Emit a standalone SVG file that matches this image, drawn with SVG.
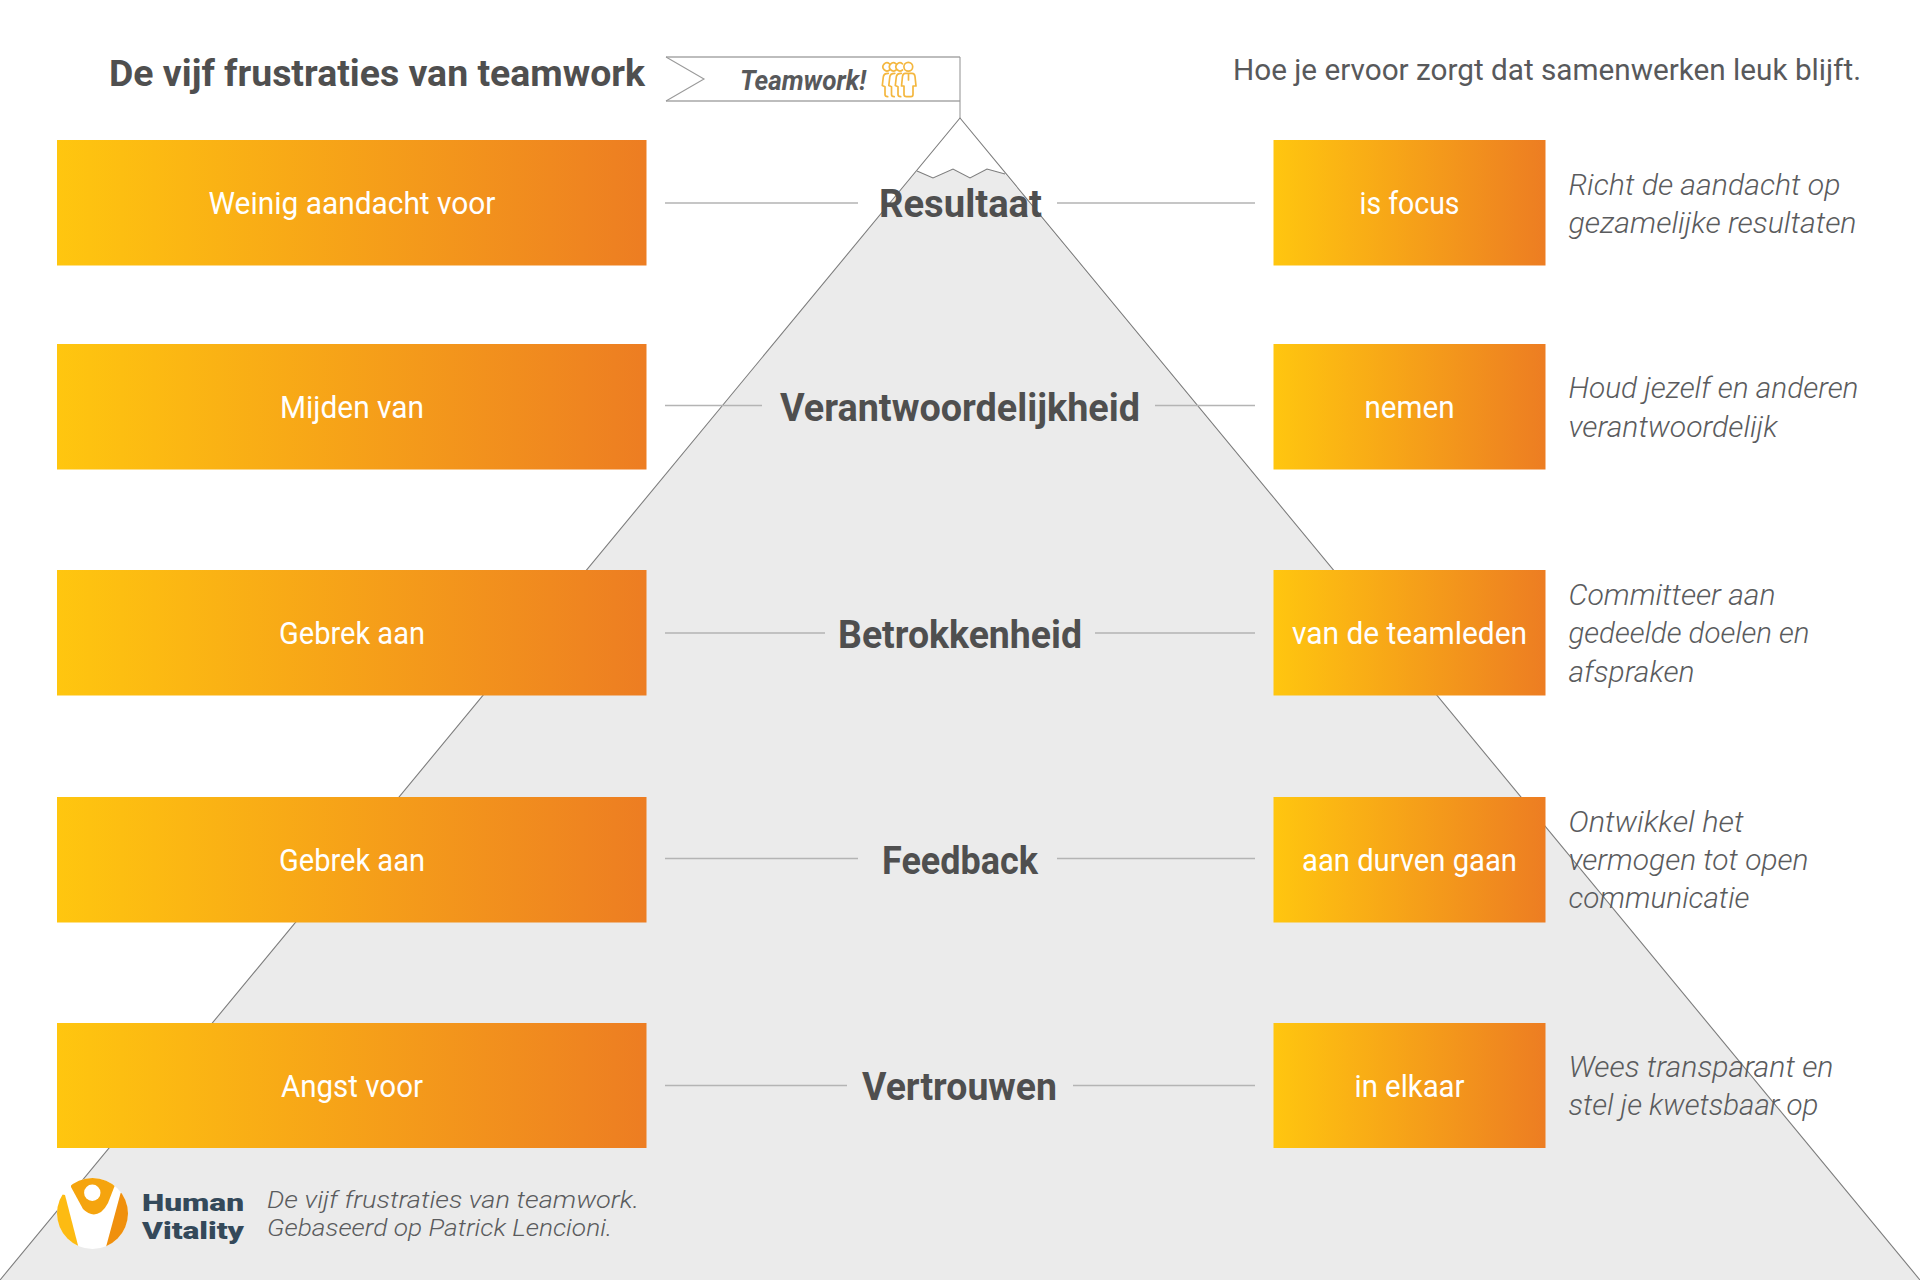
<svg xmlns="http://www.w3.org/2000/svg" width="1920" height="1280" viewBox="0 0 1920 1280">
<style>
text{font-family:Roboto,"Liberation Sans",sans-serif}
.box{fill:url(#g)}
.bt{fill:#fff;font-size:32px;text-anchor:middle}
.lab{fill:#4f4f4f;font-size:38px;font-weight:700;text-anchor:start}
.it{fill:#5a5b5d;font-size:30px;font-style:italic;font-weight:300}
.hv{font-size:24px;font-weight:900;fill:#34495a}
.c{stroke:#b4b4b4;stroke-width:1.5;fill:none}
.tri{stroke:#7d7d7d;stroke-width:1.1;fill:none}
.ic{stroke:#f4b73f;stroke-width:1.7;fill:none;stroke-linejoin:round;stroke-linecap:round}
</style>
<defs>
<linearGradient id="g" x1="0" x2="1" y1="0" y2="0"><stop offset="0" stop-color="#ffc60f"/><stop offset="1" stop-color="#ed7d22"/></linearGradient>
<clipPath id="lc"><circle cx="92.500" cy="1213.500" r="35.500"/></clipPath>
<path id="bk" d="M888.300,73.300C885,73.300 883.500,74.500 883.300,77L882.300,85.500L885,86.700V94.500C885,96 886,96.700 887.700,96.700"/>
</defs>
<rect width="1920" height="1280" fill="#fff"/>
<g id="mountain">
<polygon points="917,171 933,178 953,169 970,178 987,169 1005,174 1920,1280 0,1280" fill="#ebebeb"/>
<polyline class="tri" points="917,171 933,178 953,169 970,178 987,169 1005,174"/>
<path class="tri" d="M0,1280L960,118L1920,1280"/>
</g>
<g id="flag">
<path d="M960,57H666M666,101H960" fill="none" stroke="#bdbdbd" stroke-width="1.8"/>
<path d="M666,57L704,79L666,101M960,57V118" fill="none" stroke="#9a9a9a" stroke-width="1.100"/>
<text x="740" y="90" font-size="28" font-weight="700" font-style="italic" fill="#58595b" textLength="126" lengthAdjust="spacingAndGlyphs">Teamwork!</text>
<g class="ic">
<path d="M889.500,63.800a4,4 0 1 0 0,6.200M896,63.800a4,4 0 1 0 0,6.200M902.500,63.800a4,4 0 1 0 0,6.200"/>
<circle cx="908.300" cy="66.800" r="4.400"/>
<use href="#bk"/><use href="#bk" x="6.500"/><use href="#bk" x="13"/>
<path d="M905.500,73.300H912C914,73.300 914.800,74.500 915,76.500L916,86H913V94.500C913,96 912,96.700 911,96.700H906.500C905,96.700 904,96 904,94.500V86H901.500L902.500,76.500C902.700,74.500 903.500,73.300 905.500,73.300ZM908.500,73.300V80"/>
</g>
</g>
<g id="connectors">
<path class="c" d="M665,203H858M1057,203H1255M665,405.500H762M1155,405.500H1255M665,633H825M1095,633H1255M665,858.500H858M1057,858.500H1255M665,1085.500H847M1073,1085.500H1255"/>
</g>
<g id="titles">
<text x="109" y="86" font-size="36" font-weight="700" fill="#4f4f4f" textLength="536" lengthAdjust="spacingAndGlyphs">De vijf frustraties van teamwork</text>
<text x="1233" y="79.500" font-size="30" fill="#58595b" textLength="628" lengthAdjust="spacingAndGlyphs">Hoe je ervoor zorgt dat samenwerken leuk blijft.</text>
</g>
<g id="row1">
<rect class="box" x="57" y="140" width="589.500" height="125.500"/><text class="bt" x="352" y="213.500" textLength="287" lengthAdjust="spacingAndGlyphs">Weinig aandacht voor</text>
<text class="lab" x="879" y="217" textLength="163" lengthAdjust="spacingAndGlyphs">Resultaat</text>
<rect class="box" x="1273.500" y="140" width="272" height="125.500"/><text class="bt" x="1409.500" y="213.500" textLength="100" lengthAdjust="spacingAndGlyphs">is focus</text>
<text class="it" x="1568.500" y="194.500" textLength="272" lengthAdjust="spacingAndGlyphs">Richt de aandacht op</text>
<text class="it" x="1568.500" y="233" textLength="288" lengthAdjust="spacingAndGlyphs">gezamelijke resultaten</text>
</g>
<g id="row2">
<rect class="box" x="57" y="344" width="589.500" height="125.500"/><text class="bt" x="352" y="417.500" textLength="144" lengthAdjust="spacingAndGlyphs">Mijden van</text>
<text class="lab" x="780" y="421" textLength="360" lengthAdjust="spacingAndGlyphs">Verantwoordelijkheid</text>
<rect class="box" x="1273.500" y="344" width="272" height="125.500"/><text class="bt" x="1409.500" y="417.500" textLength="90" lengthAdjust="spacingAndGlyphs">nemen</text>
<text class="it" x="1568.500" y="398" textLength="290" lengthAdjust="spacingAndGlyphs">Houd jezelf en anderen</text>
<text class="it" x="1568.500" y="436.500" textLength="209" lengthAdjust="spacingAndGlyphs">verantwoordelijk</text>
</g>
<g id="row3">
<rect class="box" x="57" y="570" width="589.500" height="125.500"/><text class="bt" x="352" y="644" textLength="146" lengthAdjust="spacingAndGlyphs">Gebrek aan</text>
<text class="lab" x="838" y="648" textLength="244" lengthAdjust="spacingAndGlyphs">Betrokkenheid</text>
<rect class="box" x="1273.500" y="570" width="272" height="125.500"/><text class="bt" x="1409.500" y="644" textLength="235" lengthAdjust="spacingAndGlyphs">van de teamleden</text>
<text class="it" x="1568.500" y="605" textLength="207" lengthAdjust="spacingAndGlyphs">Committeer aan</text>
<text class="it" x="1568.500" y="643" textLength="241" lengthAdjust="spacingAndGlyphs">gedeelde doelen en</text>
<text class="it" x="1568.500" y="682" textLength="126" lengthAdjust="spacingAndGlyphs">afspraken</text>
</g>
<g id="row4">
<rect class="box" x="57" y="797" width="589.500" height="125.500"/><text class="bt" x="352" y="870.500" textLength="146" lengthAdjust="spacingAndGlyphs">Gebrek aan</text>
<text class="lab" x="882" y="874" textLength="156" lengthAdjust="spacingAndGlyphs">Feedback</text>
<rect class="box" x="1273.500" y="797" width="272" height="125.500"/><text class="bt" x="1409.500" y="870.500" textLength="215" lengthAdjust="spacingAndGlyphs">aan durven gaan</text>
<text class="it" x="1568.500" y="831.500" textLength="175" lengthAdjust="spacingAndGlyphs">Ontwikkel het</text>
<text class="it" x="1568.500" y="870" textLength="240" lengthAdjust="spacingAndGlyphs">vermogen tot open</text>
<text class="it" x="1568.500" y="908" textLength="181" lengthAdjust="spacingAndGlyphs">communicatie</text>
</g>
<g id="row5">
<rect class="box" x="57" y="1023" width="589.500" height="125"/><text class="bt" x="352" y="1097" textLength="142" lengthAdjust="spacingAndGlyphs">Angst voor</text>
<text class="lab" x="862" y="1100" textLength="195" lengthAdjust="spacingAndGlyphs">Vertrouwen</text>
<rect class="box" x="1273.500" y="1023" width="272" height="125"/><text class="bt" x="1409.500" y="1097" textLength="110" lengthAdjust="spacingAndGlyphs">in elkaar</text>
<text class="it" x="1568.500" y="1077" textLength="265" lengthAdjust="spacingAndGlyphs">Wees transparant en</text>
<text class="it" x="1568.500" y="1115" textLength="250" lengthAdjust="spacingAndGlyphs">stel je kwetsbaar op</text>
</g>
<g id="logo">
<circle cx="92.500" cy="1213.500" r="35.500" fill="#fff"/>
<g clip-path="url(#lc)">
<polygon points="50,1192 65,1195 78.300,1246.500 50,1250" fill="#fdbb12"/>
<polygon points="120.700,1192.700 135,1190 135,1250 106,1247" fill="#f0900d"/>
<path d="M71,1187L83,1209Q92,1218 101,1212Q105,1209 108,1203L115,1185L115,1170H71Z" fill="#f5a40e"/>
</g>
<circle cx="92.300" cy="1192.700" r="8.200" fill="#fff"/>
<text class="hv" x="142" y="1211" textLength="102" lengthAdjust="spacingAndGlyphs">Human</text>
<text class="hv" x="142" y="1238.500" textLength="102" lengthAdjust="spacingAndGlyphs">Vitality</text>
</g>
<g id="caption">
<text class="it" style="font-size:24px" x="267" y="1207.500" textLength="372" lengthAdjust="spacingAndGlyphs">De vijf frustraties van teamwork.</text>
<text class="it" style="font-size:24px" x="267" y="1236" textLength="345" lengthAdjust="spacingAndGlyphs">Gebaseerd op Patrick Lencioni.</text>
</g>
</svg>
